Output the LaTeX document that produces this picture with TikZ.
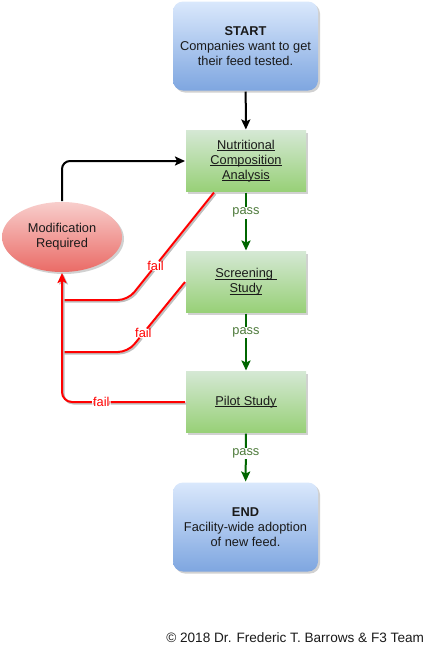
\documentclass[tikz,border=0pt]{standalone}
\usepackage{fontspec}
\setmainfont{Liberation Sans}
\usetikzlibrary{arrows.meta,shapes.geometric,shadows,positioning}

\definecolor{blueTop}{HTML}{DAE8FC}
\definecolor{blueBot}{HTML}{7EA6E0}
\definecolor{greenTop}{HTML}{D5E8D4}
\definecolor{greenBot}{HTML}{97D077}
\definecolor{redTop}{HTML}{F8CECC}
\definecolor{redBot}{HTML}{EA6B66}
\definecolor{passGreen}{HTML}{006600}
\definecolor{passText}{HTML}{4D7A3A}
\definecolor{failRed}{HTML}{FF0000}
\definecolor{textGray}{HTML}{1A1A1A}

% underline sitting close to the baseline
\newcommand{\lnk}[1]{\setbox0\hbox{#1}\rlap{\rule[-1.6pt]{\wd0}{0.7pt}}\box0}

\begin{document}
\begin{tikzpicture}[x=1pt,y=-1pt,>={Stealth[length=10pt,width=9pt,inset=2pt]},line width=2pt]
        \tikzstyle{terminal}=[rectangle, rounded corners=10pt, minimum width=145pt, minimum height=89pt, top color=blueTop, bottom color=blueBot, drop shadow={shadow xshift=2pt, shadow yshift=-2pt, fill=black!30, opacity=.6}, align=center, text=textGray, font=\fontsize{12.8}{14.8}\selectfont]
        \tikzstyle{stage}=[rectangle, minimum width=120pt, minimum height=61pt, top color=greenTop, bottom color=greenBot, drop shadow={shadow xshift=2pt, shadow yshift=-2pt, fill=black!30, opacity=.6}, align=center, text=textGray, font=\fontsize{12.8}{14.8}\selectfont]
        \tikzstyle{modnode}=[ellipse, minimum width=120pt, minimum height=70pt, inner sep=0pt, top color=redTop, bottom color=redBot, drop shadow={shadow xshift=2pt, shadow yshift=-2pt, fill=black!30, opacity=.6}, align=center, text=textGray, font=\fontsize{12.8}{14.8}\selectfont]
        \tikzstyle{passline}=[->, draw=passGreen]
        \tikzstyle{failline}=[draw=failRed, rounded corners=10pt, preaction={draw=black!25, transform canvas={xshift=1.5pt, yshift=-1.5pt}}]
        \tikzstyle{passtext}=[fill=white, text=passText, inner sep=1pt, font=\fontsize{12.8}{14}\selectfont]
        \tikzstyle{failtext}=[fill=white, text=failRed, inner sep=1pt, font=\fontsize{12.8}{14}\selectfont]

        \useasboundingbox (0,0) rectangle (427,646);

        \node[terminal] (start) at (245.5,46)  {\textbf{START}\\Companies want to get\\their feed tested.};
        \node[stage]    (nut)   at (246,161)   {\lnk{Nutritional}\\\lnk{Composition}\\\lnk{Analysis}};
        \node[stage]    (scr)   at (246,282)   {\lnk{Screening }\\\lnk{Study}};
        \node[stage]    (pilot) at (246,402)   {\lnk{Pilot Study}};
        \node[terminal] (end)   at (245.5,527) {\textbf{END}\\Facility-wide adoption\\of new feed.};
        \node[modnode]  (mod)   at (62,237)    {Modification\\Required};

        \node[anchor=base east, inner sep=0pt, text=textGray, font=\fontsize{13.6}{15}\selectfont] (credit) at (425,642) {© 2018 Dr. Frederic T. Barrows \& F3 Team};

        % main flow
        \draw[->] (start) -- (nut);
        \draw[passline] (nut) -- node[passtext, pos=.35] {pass} (scr);
        \draw[passline] (scr) -- node[passtext, pos=.33] {pass} (pilot);
        \draw[passline] (pilot) -- node[passtext, pos=.42] {pass} (end);
        \draw[->, rounded corners=8pt] (mod.north) |- (nut.west);

        % fail returns
        \coordinate (nutout) at ([xshift=29pt]nut.south west);
        \coordinate (bendA) at (128,300);
        \coordinate (joinA) at (mod.south |- bendA);
        \coordinate (bendB) at (128,352);
        \coordinate (joinB) at (mod.south |- bendB);
        \coordinate (cornerC) at (mod.south |- pilot.west);
        \draw[failline] (nutout) -- node[failtext, pos=.68] {fail} (bendA) -- (joinA);
        \draw[failline] (scr.west) -- node[failtext, pos=.73] {fail} (bendB) -- (joinB);
        \draw[failline, ->] (pilot.west) -- node[failtext, pos=.68] {fail} (cornerC) -- (mod.south);

\end{tikzpicture}
\end{document}
